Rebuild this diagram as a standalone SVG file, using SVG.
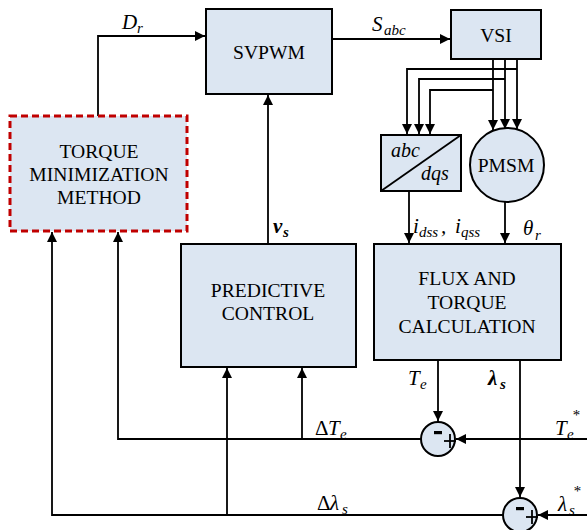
<svg xmlns="http://www.w3.org/2000/svg" width="587" height="530" viewBox="0 0 587 530">
<defs>
<marker id="ah" viewBox="0 0 10 10" refX="10" refY="5" markerWidth="10" markerHeight="10" markerUnits="userSpaceOnUse" orient="auto">
<path d="M0,0 L10,5 L0,10 Z" fill="#000"/>
</marker>
<style>
.box{fill:#dce6f2;stroke:#000;stroke-width:2}
.red{fill:#dce6f2;stroke:#c00000;stroke-width:3;stroke-dasharray:7 4}
text{font-family:'Liberation Serif','Times New Roman','DejaVu Serif',serif;fill:#000}
.t{font-size:19.6px;text-anchor:middle}
.m{font-style:italic;font-size:21px}
.s{font-style:italic;font-size:15px}
.b{font-weight:bold}
.c{fill:none;stroke:#000;stroke-width:1.8}
.a{marker-end:url(#ah)}
.sg{stroke:#000;stroke-width:1.8}
</style>
</defs>

<g id="connectors">
<path class="c a" d="M98,116 V36 H205"/>
<path class="c a" d="M332,39 H450"/>
<path class="c a" d="M268,244 V95"/>
<path class="c a" d="M493,59 V130"/>
<path class="c a" d="M505,59 V129"/>
<path class="c a" d="M517,59 V129"/>
<path class="c a" d="M517,69 H407 V134"/>
<path class="c a" d="M505,79 H419 V134"/>
<path class="c a" d="M493,90 H430 V134"/>
<path class="c a" d="M409,191 V243"/>
<path class="c a" d="M505,202 V243"/>
<path class="c a" d="M438,360 V421"/>
<path class="c a" d="M520,360 V497"/>
<path class="c a" d="M587,439 H456"/>
<path class="c a" d="M587,515 H538"/>
<path class="c a" d="M421,439 H118 V232"/>
<path class="c a" d="M302,439 V368"/>
<path class="c a" d="M503,515 H52 V232"/>
<path class="c a" d="M227,515 V368"/>
</g>

<g id="svpwm">
<rect class="box" x="206" y="9" width="126" height="85"/>
<text class="t" x="269" y="59">SVPWM</text>
</g>

<g id="vsi">
<rect class="box" x="451" y="10" width="90" height="49"/>
<text class="t" x="496" y="42">VSI</text>
</g>

<g id="abc-dqs">
<rect class="box" x="381" y="135" width="80" height="56"/>
<line class="sg" x1="381" y1="191" x2="461" y2="135"/>
<text class="m" x="391" y="157" style="font-size:20px">abc</text>
<text class="m" x="421" y="180" style="font-size:20px">dqs</text>
</g>

<g id="pmsm">
<circle class="box" cx="507" cy="165" r="37"/>
<text class="t" x="506" y="172">PMSM</text>
</g>

<g id="torque-minimization">
<rect class="red" x="10" y="116" width="177" height="115"/>
<text class="t" x="99" y="158">TORQUE</text>
<text class="t" x="99" y="181">MINIMIZATION</text>
<text class="t" x="99" y="204">METHOD</text>
</g>

<g id="predictive-control">
<rect class="box" x="181" y="244" width="175" height="123"/>
<text class="t" x="268" y="297">PREDICTIVE</text>
<text class="t" x="268" y="320">CONTROL</text>
</g>

<g id="flux-torque">
<rect class="box" x="374" y="244" width="187" height="116"/>
<text class="t" x="467" y="285">FLUX AND</text>
<text class="t" x="467" y="309">TORQUE</text>
<text class="t" x="467" y="333">CALCULATION</text>
</g>

<g id="sum-torque">
<circle class="box" cx="438" cy="439" r="17"/>
<rect x="434" y="431" width="8" height="3.2" fill="#000"/>
<line class="sg" x1="444" y1="441" x2="456" y2="441"/>
<line class="sg" x1="450" y1="434" x2="450" y2="448"/>
</g>

<g id="sum-flux">
<circle class="box" cx="520" cy="515" r="17"/>
<rect x="516" y="507" width="8" height="3.2" fill="#000"/>
<line class="sg" x1="526" y1="517" x2="538" y2="517"/>
<line class="sg" x1="532" y1="510" x2="532" y2="524"/>
</g>

<g id="labels">
<text class="m" x="122" y="29">D</text><text class="s" x="137" y="33">r</text>
<text class="m" x="372" y="31">S</text><text class="s" x="384" y="35">abc</text>
<text class="m b" x="273" y="233">v</text><text class="s b" x="283" y="237">s</text>
<text class="m" x="413" y="233">i</text><text class="s" x="419" y="237">dss</text><text class="m" x="441" y="233">,</text>
<text class="m" x="455" y="233">i</text><text class="s" x="461" y="237">qss</text>
<text class="m" x="523" y="235">θ</text><text class="s" x="535" y="240">r</text>
<text class="m" x="408" y="385">T</text><text class="s" x="420" y="389">e</text>
<text class="m b" x="488" y="385">λ</text><text class="s b" x="500" y="389">s</text>
<text class="m" x="315" y="435" style="font-style:normal">Δ</text><text class="m" x="328" y="435">T</text><text class="s" x="340" y="439">e</text>
<text class="m" x="555" y="435">T</text><text class="s" x="567" y="439">e</text><text class="s" x="572" y="420">*</text>
<text class="m" x="317" y="510" style="font-style:normal">Δ</text><text class="m" x="330" y="510">λ</text><text class="s" x="342" y="514">s</text>
<text class="m" x="558" y="511">λ</text><text class="s" x="569" y="515">s</text><text class="s" x="573" y="496">*</text>
</g>
</svg>
